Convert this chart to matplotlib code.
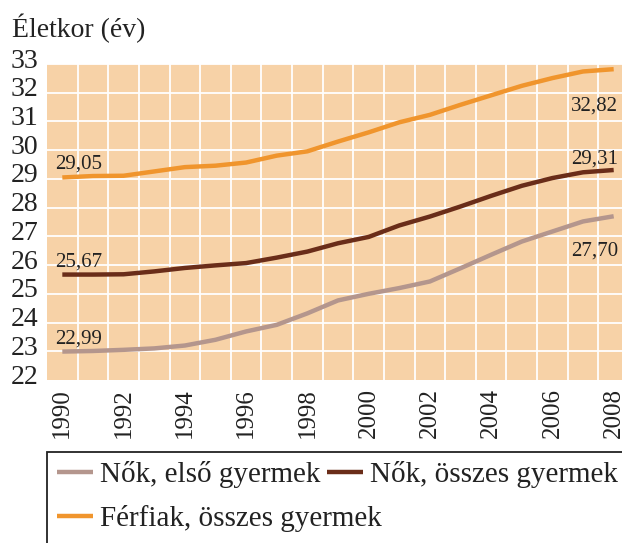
import matplotlib
matplotlib.use("Agg")
import matplotlib.pyplot as plt
import matplotlib.transforms as mtransforms
from matplotlib.patches import Rectangle
import numpy as np

# data
years = list(range(1990, 2009))
nok_elso = [22.99, 23.01, 23.05, 23.10, 23.20, 23.40, 23.69, 23.92, 24.32, 24.77,
            25.00, 25.20, 25.43, 25.89, 26.36, 26.82, 27.17, 27.52, 27.70]
nok_osszes = [25.67, 25.67, 25.68, 25.78, 25.90, 25.99, 26.07, 26.26, 26.47, 26.76,
              26.98, 27.38, 27.69, 28.04, 28.41, 28.76, 29.03, 29.23, 29.31]
ferfiak = [29.05, 29.10, 29.11, 29.26, 29.41, 29.46, 29.57, 29.81, 29.96, 30.30,
           30.62, 30.97, 31.23, 31.58, 31.91, 32.24, 32.51, 32.74, 32.82]
series_names = ["Nők, első gyermek", "Nők, összes gyermek", "Férfiak, összes gyermek"]
end_labels = ["27,70", "29,31", "32,82"]
start_labels = ["22,99", "25,67", "29,05"]
ylabel = "Életkor (év)"

COLORS = ["#b4968d", "#6a2d19", "#f0952d"]
BG = "#f7d2a7"
TXT = "#222222"
FONT = "Liberation Serif"

plt.rcParams["font.family"] = [FONT, "DejaVu Serif"]

W, H = 622, 543
fig = plt.figure(figsize=(W / 100, H / 100), dpi=100)
# axes runs a little past the right edge of the figure, as in the reference
ax = fig.add_axes([47 / W, (H - 380) / H, (629 - 47) / W, (380 - 64) / H])
ax.set_facecolor(BG)
for s in ax.spines.values():
    s.set_visible(False)

ax.set_xlim(1989.5, 2008.5)
ax.set_ylim(22, 33)

# white grid: horizontal at integers, vertical between years
for y in range(23, 34):
    ax.axhline(y, color="white", lw=1.3, zorder=1)
for x in np.arange(1990.5, 2008.5, 1.0):
    ax.axvline(x, color="white", lw=1.3, zorder=1)

all_series = [nok_elso, nok_osszes, ferfiak]
handles = []
for vals, c, name in zip(all_series, COLORS, series_names):
    h, = ax.plot(years, vals, color=c, lw=3.2, solid_capstyle="butt", zorder=3, label=name)
    handles.append(h)

# start and end value labels
for vals, lab in zip(all_series, start_labels):
    ax.annotate(lab, (years[0], vals[0]), xytext=(-5, 2.5), textcoords="offset points",
                ha="left", va="bottom", fontsize=15, color=TXT, zorder=4)
end_offsets = [(-18, "top"), (1, "bottom"), (-20, "top")]
for vals, lab, (dy, va) in zip(all_series, end_labels, end_offsets):
    ax.annotate(lab, (years[-1], vals[-1]), xytext=(3, dy), textcoords="offset points",
                ha="right", va=va, fontsize=15, color=TXT, zorder=4)

ax.set_yticks(range(22, 34))
ax.set_yticklabels([str(v) for v in range(22, 34)], fontsize=20, color=TXT)
ax.set_xticks(years[::2])
ax.set_xticklabels([str(y) for y in years[::2]], rotation=90, fontsize=18, color=TXT)
ax.tick_params(length=0, pad=6)
shift = mtransforms.ScaledTranslation(0, 6 / 100, fig.dpi_scale_trans)
for t in ax.get_yticklabels():
    t.set_transform(t.get_transform() + shift)

fig.text(12 / W, 1 - 28 / H, ylabel, fontsize=20, ha="left", va="center", color=TXT)

# legend box, clipped by the right and bottom edges
fig.patches.append(Rectangle((47 / W, -0.1), 1.2, (H - 452) / H + 0.1,
                             transform=fig.transFigure, fill=False, ec=TXT, lw=1.3))
# one legend per entry so each sits where the reference puts it
legend_spots = [(57, 475), (327, 475), (57, 519)]
for h, name, (lx, ly) in zip(handles, series_names, legend_spots):
    leg = fig.legend([h], [name], loc="center left", bbox_to_anchor=(lx / W, 1 - ly / H),
                     frameon=False, fontsize=21, handlelength=1.23, handletextpad=0.24,
                     borderaxespad=0, borderpad=0)
    for t in leg.get_texts():
        t.set_color(TXT)

fig.savefig("out.png", dpi=100)
